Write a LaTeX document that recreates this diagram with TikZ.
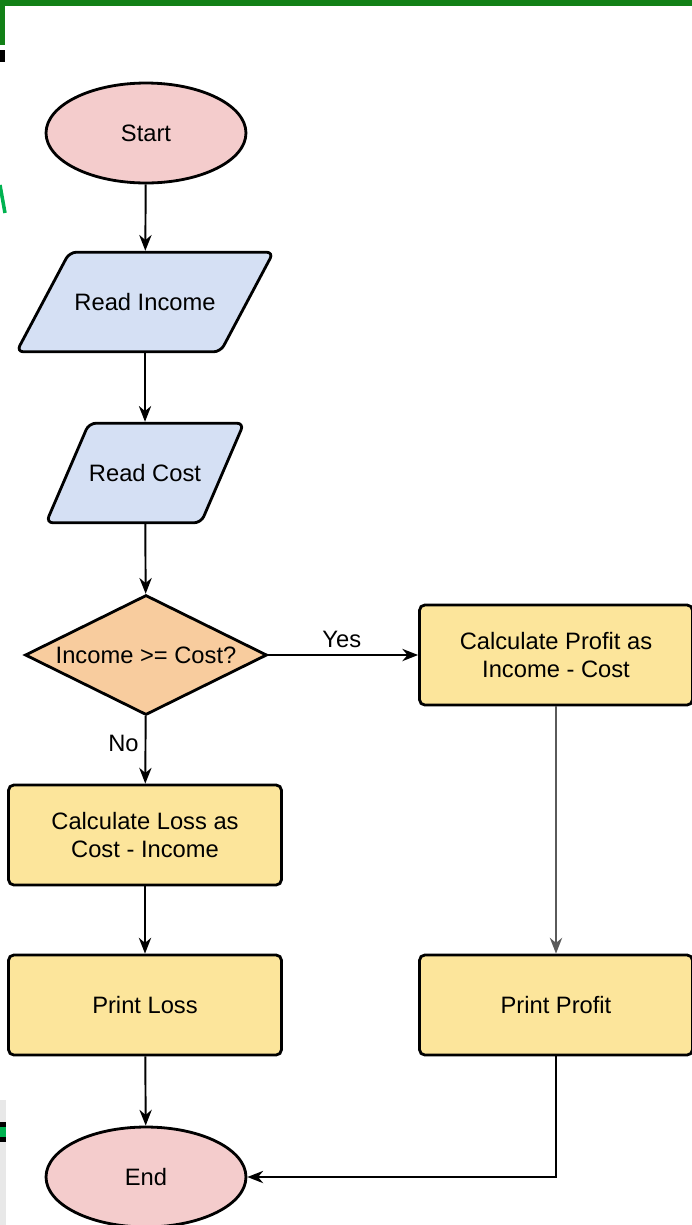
\documentclass[tikz,border=0pt]{standalone}
\usepackage{fontspec}
\setmainfont{Liberation Sans}
\usetikzlibrary{shapes.geometric,arrows.meta}
\definecolor{termfill}{RGB}{244,204,204}
\definecolor{iofill}{RGB}{213,224,244}
\definecolor{decfill}{RGB}{248,204,158}
\definecolor{procfill}{RGB}{252,229,155}
\definecolor{framegreen}{RGB}{18,128,22}
\definecolor{brightgreen}{RGB}{0,178,80}
\definecolor{edgegray}{RGB}{232,232,232}
\definecolor{linegray}{RGB}{90,90,90}
\tikzset{
  >={Stealth[length=9pt,width=7pt]},
}
\tikzstyle{every node}=[font=\fontsize{13.5}{16}\selectfont]
\tikzstyle{terminal}=[ellipse,draw,line width=1.6pt,fill=termfill,minimum width=4cm,minimum height=2cm,inner sep=0pt]
\tikzstyle{io}=[trapezium,trapezium left angle=62,trapezium right angle=118,trapezium stretches body,draw,line width=1.6pt,rounded corners=4pt,fill=iofill,text height=10pt,text depth=0pt,inner xsep=0pt,inner ysep=23.35pt]
\tikzstyle{decision}=[diamond,draw,line width=1.6pt,fill=decfill,minimum width=4.84cm,minimum height=2.4cm,inner sep=0pt]
\tikzstyle{process}=[rectangle,draw,line width=1.6pt,rounded corners=3pt,fill=procfill,minimum width=5.46cm,minimum height=2cm,align=center]
\tikzstyle{flow}=[line width=1.1pt,->]

\begin{document}
\begin{tikzpicture}[x=0.02cm,y=-0.02cm]
    \useasboundingbox (0,0) rectangle (692,1225);
    % bits of the screenshot frame
    \fill[framegreen] (0,0) rectangle (692,6);
    \fill[framegreen] (0,0) rectangle (5,45);
    \fill[black] (0,50) rectangle (5,62);
    \draw[brightgreen,line width=2pt] (0,185) -- (5,213);
    \fill[edgegray] (0,1100) rectangle (6,1225);
    \fill[black] (0,1122) rectangle (6,1142);
    \fill[brightgreen] (0,1127) rectangle (6,1137);

    \node[terminal] (start) at (146,133) {Start};
    \node[io,minimum width=5.14cm] (income) at (145,302) {Read Income};
    \node[io,trapezium left angle=66.7,trapezium right angle=113.3] (cost) at (145,473) {Read Cost};
    \node[decision,label=center:{Income >= Cost?}] (check) at (146,655) {};
    \node[process] (profit) at (556,655) {Calculate Profit as\\Income - Cost};
    \node[process] (loss) at (145,835) {Calculate Loss as\\Cost - Income};
    \node[process] (ploss) at (145,1005) {Print Loss};
    \node[process] (pprofit) at (556,1005) {Print Profit};
    \node[terminal] (end) at (146,1177) {End};

    \draw[flow] (start) -- (income);
    \draw[flow] (income) -- (cost);
    \draw[flow] (cost) -- (check);
    \draw[flow] (check) -- node[above,pos=0.49]{Yes} (profit);
    \draw[flow] (check) -- node[left,pos=0.4]{No} (loss);
    \draw[flow] (loss) -- (ploss);
    \draw[flow] (ploss) -- (end);
    \draw[flow,linegray] (profit) -- (pprofit);
    \draw[flow] (pprofit.south) |- (end);
\end{tikzpicture}
\end{document}
